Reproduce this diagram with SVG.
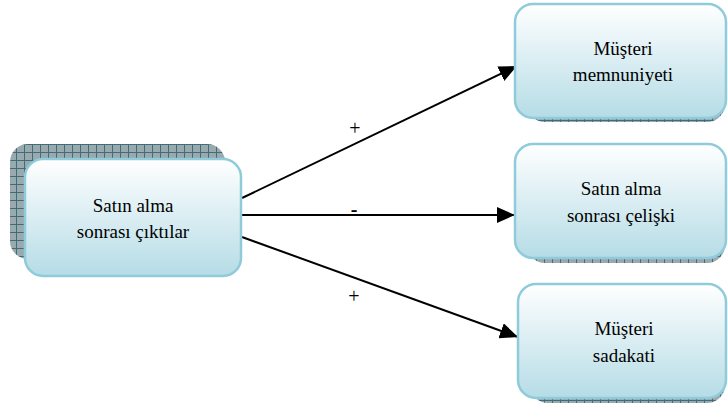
<svg xmlns="http://www.w3.org/2000/svg" width="728" height="408" viewBox="0 0 728 408">
  <style>
    .shadow { fill: url(#hatch); }
    .box { fill: url(#boxFill); stroke: #8fcbdb; stroke-width: 2.5; }
    .edge { stroke: #000; stroke-width: 2; fill: none; }
  </style>
  <defs>
    <linearGradient id="boxFill" x1="0" y1="0" x2="0" y2="1">
      <stop offset="0" stop-color="#ffffff"/>
      <stop offset="1" stop-color="#b5dce6"/>
    </linearGradient>
    <pattern id="hatch" width="8" height="8" patternUnits="userSpaceOnUse">
      <rect width="8" height="8" fill="#9aa9ae"/>
      <path d="M0 0.5 H8 M0.5 0 V8" stroke="#3f6d78" stroke-width="1"/>
    </pattern>
    <marker id="arrow" viewBox="0 0 10 10" refX="10" refY="5" markerWidth="18" markerHeight="16" markerUnits="userSpaceOnUse" orient="auto" preserveAspectRatio="none">
      <path d="M0 0 L10 5 L0 10 z" fill="#000"/>
    </marker>
  </defs>

  <!-- arrows from the source box to the three outcome boxes, with their signs -->
  <g id="connectors">
    <line class="edge" x1="242" y1="198" x2="517" y2="66" marker-end="url(#arrow)"/>
    <line class="edge" x1="242" y1="215" x2="515" y2="215" marker-end="url(#arrow)"/>
    <line class="edge" x1="242" y1="237" x2="518" y2="337" marker-end="url(#arrow)"/>
    <text x="355" y="135" font-family="Times New Roman, Liberation Serif, serif" font-size="20" text-anchor="middle">+</text>
    <text x="354" y="216" font-family="Times New Roman, Liberation Serif, serif" font-size="20" font-weight="bold" text-anchor="middle">-</text>
    <text x="354" y="303" font-family="Times New Roman, Liberation Serif, serif" font-size="20" text-anchor="middle">+</text>
  </g>

  <g id="source">
    <rect class="shadow" x="10" y="144" width="215" height="115" rx="18"/>
    <rect class="box" x="25" y="159" width="216" height="117" rx="18"/>
    <text x="133" y="212" font-family="Times New Roman, Liberation Serif, serif" font-size="19" text-anchor="middle">Satın alma</text>
    <text x="133" y="238" font-family="Times New Roman, Liberation Serif, serif" font-size="19" text-anchor="middle">sonrası çıktılar</text>
  </g>

  <g id="satisfaction">
    <rect class="shadow" x="527" y="8" width="198" height="114" rx="18"/>
    <rect class="box" x="515" y="4" width="211" height="114" rx="18"/>
    <text x="623" y="55" font-family="Times New Roman, Liberation Serif, serif" font-size="19" text-anchor="middle">Müşteri</text>
    <text x="623" y="81" font-family="Times New Roman, Liberation Serif, serif" font-size="19" text-anchor="middle">memnuniyeti</text>
  </g>

  <g id="dissonance">
    <rect class="shadow" x="527" y="148" width="198" height="115" rx="18"/>
    <rect class="box" x="515" y="144" width="211" height="114" rx="18"/>
    <text x="621" y="195" font-family="Times New Roman, Liberation Serif, serif" font-size="19" text-anchor="middle">Satın alma</text>
    <text x="621" y="222" font-family="Times New Roman, Liberation Serif, serif" font-size="19" text-anchor="middle">sonrası çelişki</text>
  </g>

  <g id="loyalty">
    <rect class="shadow" x="530" y="288" width="195" height="115" rx="18"/>
    <rect class="box" x="518" y="284" width="208" height="114" rx="18"/>
    <text x="624" y="335" font-family="Times New Roman, Liberation Serif, serif" font-size="19" text-anchor="middle">Müşteri</text>
    <text x="624" y="362" font-family="Times New Roman, Liberation Serif, serif" font-size="19" text-anchor="middle">sadakati</text>
  </g>
</svg>
